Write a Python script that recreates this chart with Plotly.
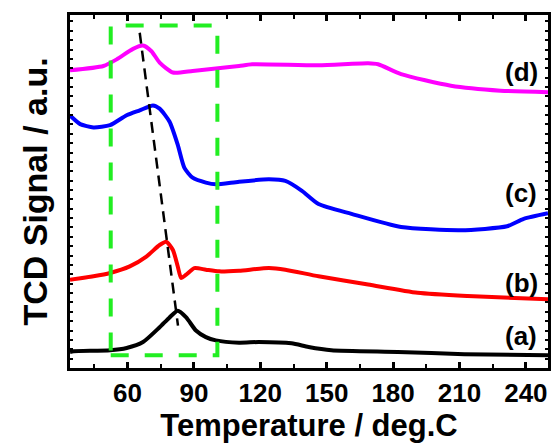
import plotly.graph_objects as go

# ---- data (Temperature in deg.C, TCD signal in a.u., offset curves) ----
t_a = [34, 35.6, 52.1, 59.6, 67.0, 74.5, 79.0, 82.7, 86.5, 90.9, 95.4, 99.9, 110.4, 119.3, 134.1, 141.8, 152.1, 182.1, 212.2, 250]
y_a = [16.3, 17, 18, 20.3, 26.3, 41.3, 51.3, 58, 51.3, 38, 31.3, 28, 25.7, 26.3, 25, 21.3, 18, 16.3, 14, 13]

t_b = [34, 44.6, 52.1, 61.0, 68.5, 74.5, 77.5, 80.5, 82.7, 84.2, 86.5, 90.2, 95.4, 101.4, 110.4, 123.9, 131.3, 146.3, 168.7, 191.1, 213.6, 250]
y_b = [89.5, 93, 96.3, 103, 113, 124.7, 128, 119.7, 103, 91.3, 94.7, 101.3, 99.7, 98, 98.7, 101.3, 99.7, 93, 84.7, 76.3, 73, 69.7]

t_c = [34, 38.6, 44.6, 52.1, 59.6, 65.5, 71.5, 74.5, 79.0, 82.7, 85.7, 89.4, 95.4, 99.9, 110.4, 123.9, 131.3, 138.8, 146.3, 161.2, 183.6, 210.5, 231.5, 239.0, 250]
y_c = [256, 247.3, 244, 246.3, 256.3, 261.3, 266.3, 263, 249.7, 226.3, 203, 193, 188, 186.3, 189, 191.3, 189.7, 179.7, 166.3, 156.3, 143, 139.7, 143.7, 151.3, 157]

t_d = [34, 49.1, 55.1, 62.5, 67.0, 70.8, 74.5, 80.5, 89.4, 99.9, 110.4, 116.3, 146.3, 168.7, 173.2, 183.6, 206.1, 228.5, 250]
y_d = [302, 306.3, 313, 323.7, 327, 321.3, 309.7, 299.7, 301.3, 303.7, 306.3, 308, 307, 309, 308, 298, 286.3, 281.3, 279.7]

labels = ["(a)", "(b)", "(c)", "(d)"]
label_t = [238, 238, 238, 238]
label_y = [32, 86, 177, 300.5]
colors = ["#000000", "#ff0000", "#0000ff", "#ff00ff"]

# guide marks: peak-shift line and highlighted region
shift_t = [65.5, 82.8]
shift_y = [340, 43]
box_t = [52.4, 100.6]
box_y = [13, 347.3]

x_ticks = [60, 90, 120, 150, 180, 210, 240]

fig = go.Figure()
for t, y, c in zip([t_a, t_b, t_c, t_d], [y_a, y_b, y_c, y_d], colors):
    fig.add_trace(go.Scatter(x=t, y=y, mode="lines", line=dict(color=c, width=4, shape="spline", smoothing=0.6),
                             showlegend=False, hoverinfo="skip"))

fig.add_shape(type="rect", x0=box_t[0], x1=box_t[1], y0=box_y[0], y1=box_y[1],
              line=dict(color="#22ee22", width=4, dash="18px,16px"), layer="above")
fig.add_trace(go.Scatter(x=shift_t, y=shift_y, mode="lines",
                         line=dict(color="black", width=2.5, dash="11px,7px"), showlegend=False, hoverinfo="skip"))

for lab, lt, ly in zip(labels, label_t, label_y):
    fig.add_annotation(x=lt, y=ly, text=lab, showarrow=False,
                       font=dict(family="Liberation Sans", size=26, color="black", weight="bold"))

fig.update_layout(
    width=557, height=443,
    margin=dict(l=70, r=6, t=15, b=70),
    paper_bgcolor="white", plot_bgcolor="white",
    font=dict(family="Liberation Sans", color="black"),
)
fig.update_xaxes(
    range=[34, 250], tickvals=x_ticks, ticktext=[str(v) for v in x_ticks],
    ticks="inside", ticklen=6, tickwidth=3, tickcolor="black",
    minor=dict(dtick=15, tick0=0, ticks="inside", ticklen=4, tickwidth=2, tickcolor="black"),
    showline=True, linewidth=3, linecolor="black", mirror="allticks",
    showgrid=False, zeroline=False,
    tickfont=dict(family="Liberation Sans", size=26, color="black", weight="bold"),
    title=dict(text="Temperature / deg.C", standoff=7,
               font=dict(family="Liberation Sans", size=31, color="black", weight="bold")),
)
fig.update_yaxes(
    range=[0, 358], dtick=9.5, tick0=0, showticklabels=False,
    ticks="inside", ticklen=3, tickwidth=2, tickcolor="black",
    showline=True, linewidth=3, linecolor="black", mirror="allticks",
    showgrid=False, zeroline=False,
    title=dict(text="TCD Signal / a.u.", standoff=10,
               font=dict(family="Liberation Sans", size=34, color="black", weight="bold")),
)

fig.write_html("out.html")
